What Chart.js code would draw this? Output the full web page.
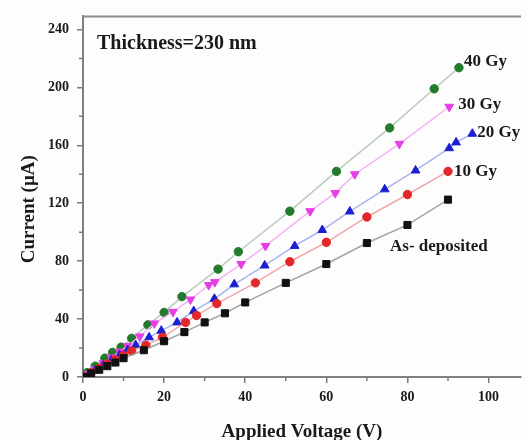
<!DOCTYPE html>
<html>
<head>
<meta charset="utf-8">
<script src="https://cdn.jsdelivr.net/npm/chart.js@4/dist/chart.umd.min.js"></script>
<style>
  html, body { margin: 0; padding: 0; background: #fdfdfd; }
  #wrap { width: 527px; height: 440px; position: relative; }
</style>
</head>
<body>
<div id="wrap"><canvas id="c" width="527" height="440"></canvas></div>
<script>
// ---- data (Applied Voltage in V, Current in µA) ----
const seriesNames = ['As- deposited', '10 Gy', '20 Gy', '30 Gy', '40 Gy'];

const voltAsDep = [0, 2, 4, 6, 8, 10, 15, 20, 25, 30, 35, 40, 50, 60, 70, 80, 90];
const curAsDep  = [0, 2.5, 5, 7.5, 10, 13, 18.5, 24.7, 31, 37.7, 44, 51.5, 65, 78, 92.5, 105, 122.5];

const volt10 = [0, 2, 4, 6, 8, 10, 12, 15.5, 19.6, 25.3, 28, 33, 42.5, 51, 60, 70, 80, 90];
const cur10  = [0, 3, 6, 9, 12, 15, 18, 22, 27.4, 37.7, 42.5, 50.7, 65, 79.6, 93, 110.5, 126, 142];

const volt20 = [0, 1.5, 3, 5, 7, 9, 11, 13, 16.3, 19.3, 23.2, 27.3, 32.4, 37.3, 44.8, 52.2, 59, 65.8, 74.4, 82, 90.3, 92, 96];
const cur20  = [0, 2, 4.5, 8, 11.5, 15, 18.5, 22, 27.4, 32, 37.7, 45.5, 54, 64, 77, 90.5, 101.5, 114.3, 129.6, 142.6, 158, 162, 168];

const volt30 = [0, 1.5, 3, 5, 7, 9, 11, 14, 17.6, 22.2, 26.5, 31, 32.5, 39, 45, 56, 62.2, 67, 78, 90.3];
const cur30  = [0, 2.5, 5.5, 9.5, 13.5, 17.5, 21.5, 28, 37, 45, 53.5, 63.5, 65.5, 78, 90.5, 114.5, 127, 140, 161, 186.6];

const volt40 = [0, 1, 3, 5.4, 7.3, 9.4, 12, 16, 20, 24.4, 33.3, 38.3, 51, 62.5, 75.6, 86.6, 92.7];
const cur40  = [0, 3, 7.5, 13, 17, 20.6, 26.7, 36, 44.6, 55.5, 74.5, 86.5, 114.5, 142, 172, 199, 213.6];

const xTicks = [0, 20, 40, 60, 80, 100];
const yTicks = [0, 40, 80, 120, 160, 200, 240];
const xMinor = [10, 30, 50, 70, 90];
const yMinor = [20, 60, 100, 140, 180, 220];
const annotationText = 'Thickness=230 nm';
const xTitle = 'Applied Voltage (V)';
const yTitle = 'Current (\u00B5A)';

// ---- build datasets ----
const toPts = (xs, ys) => xs.map((v, i) => ({ x: v, y: ys[i] }));
const SERIF = '"Liberation Serif", "Times New Roman", "DejaVu Serif", serif';

const datasets = [
  { label: seriesNames[0], data: toPts(voltAsDep, curAsDep), borderColor: '#a3a3a3', backgroundColor: '#111111',
    pointBorderColor: '#111111', pointStyle: 'rect', pointRadius: 5, pointRotation: 0 },
  { label: seriesNames[1], data: toPts(volt10, cur10), borderColor: '#f2a6a6', backgroundColor: '#e3262a',
    pointBorderColor: '#e3262a', pointStyle: 'circle', pointRadius: 4.2, pointRotation: 0 },
  { label: seriesNames[2], data: toPts(volt20, cur20), borderColor: '#a9b3f2', backgroundColor: '#1b1fd2',
    pointBorderColor: '#1b1fd2', pointStyle: 'triangle', pointRadius: 5, pointRotation: 0 },
  { label: seriesNames[3], data: toPts(volt30, cur30), borderColor: '#f3b2f3', backgroundColor: '#e63ee6',
    pointBorderColor: '#e63ee6', pointStyle: 'triangle', pointRadius: 5, pointRotation: 180 },
  { label: seriesNames[4], data: toPts(volt40, cur40), borderColor: '#b9cdb9', backgroundColor: '#247a2c',
    pointBorderColor: '#247a2c', pointStyle: 'circle', pointRadius: 4.2, pointRotation: 0 }
].map(d => Object.assign({ borderWidth: 1.5, pointBorderWidth: 1, showLine: true, tension: 0, fill: false }, d));

// ---- decorations drawn through the chart scales ----
const decor = {
  id: 'decor',
  afterDraw(chart) {
    const { ctx, chartArea: a, scales: { x, y } } = chart;
    ctx.save();
    // top frame line
    ctx.strokeStyle = '#8c8c8c';
    ctx.lineWidth = 2;
    ctx.beginPath();
    ctx.moveTo(a.left - 1, a.top);
    ctx.lineTo(a.right, a.top);
    ctx.stroke();
    // minor ticks
    ctx.strokeStyle = '#7a7a7a';
    ctx.lineWidth = 1.5;
    ctx.beginPath();
    xMinor.forEach(v => { const px = x.getPixelForValue(v); ctx.moveTo(px, a.bottom); ctx.lineTo(px, a.bottom + 4); });
    yMinor.forEach(v => { const py = y.getPixelForValue(v); ctx.moveTo(a.left, py); ctx.lineTo(a.left - 4, py); });
    ctx.stroke();

    ctx.fillStyle = '#1a1a1a';
    ctx.textBaseline = 'middle';
    // annotation
    ctx.font = 'bold 20px ' + SERIF;
    ctx.textAlign = 'left';
    ctx.fillText(annotationText, a.left + 14, y.getPixelForValue(240) + 14);

    // series end labels
    ctx.font = 'bold 17px ' + SERIF;
    const offsets = [null, [6, 0], [5, -1], [9, -2], [5, -6]];
    chart.data.datasets.forEach((ds, i) => {
      const last = ds.data[ds.data.length - 1];
      const px = x.getPixelForValue(last.x), py = y.getPixelForValue(last.y);
      if (i === 0) {
        ctx.fillText(ds.label, px - 58, py + 47);
      } else {
        ctx.fillText(ds.label, px + offsets[i][0], py + offsets[i][1]);
      }
    });

    // axis titles
    ctx.font = 'bold 19px ' + SERIF;
    ctx.textAlign = 'center';
    ctx.fillText(xTitle, (a.left + a.right) / 2, a.bottom + 55);
    ctx.save();
    ctx.translate(29, (y.getPixelForValue(0) + y.getPixelForValue(240)) / 2 + 6);
    ctx.rotate(-Math.PI / 2);
    ctx.fillText(yTitle, 0, 0);
    ctx.restore();
    ctx.restore();
  }
};

const bg = {
  id: 'bg',
  beforeDraw(chart) {
    const { ctx, width, height } = chart;
    ctx.save();
    ctx.fillStyle = '#fdfdfd';
    ctx.fillRect(0, 0, width, height);
    ctx.restore();
  }
};

new Chart(document.getElementById('c'), {
  type: 'scatter',
  data: { datasets },
  options: {
    responsive: false,
    animation: false,
    layout: { padding: { top: 14, right: 0, bottom: 0, left: 0 } },
    plugins: { legend: { display: false }, tooltip: { enabled: false } },
    scales: {
      x: {
        type: 'linear', min: 0, max: 108,
        afterFit(s) { s.height = 63; },
        afterBuildTicks(s) { s.ticks = xTicks.map(v => ({ value: v })); },
        grid: { display: true, drawOnChartArea: false, drawTicks: true, tickLength: 6, color: '#7a7a7a', lineWidth: 1.5 },
        border: { display: true, color: '#808080', width: 2 },
        ticks: { font: { family: SERIF, size: 14, weight: 'bold' }, color: '#1a1a1a', padding: 6, maxRotation: 0 }
      },
      y: {
        type: 'linear', min: 0, max: 249,
        afterFit(s) { s.width = 83; },
        afterBuildTicks(s) { s.ticks = yTicks.map(v => ({ value: v })); },
        grid: { display: true, drawOnChartArea: false, drawTicks: true, tickLength: 6, color: '#7a7a7a', lineWidth: 1.5 },
        border: { display: true, color: '#808080', width: 2 },
        ticks: { font: { family: SERIF, size: 14, weight: 'bold' }, color: '#1a1a1a', padding: 8 }
      }
    }
  },
  plugins: [bg, decor]
});
</script>
</body>
</html>
